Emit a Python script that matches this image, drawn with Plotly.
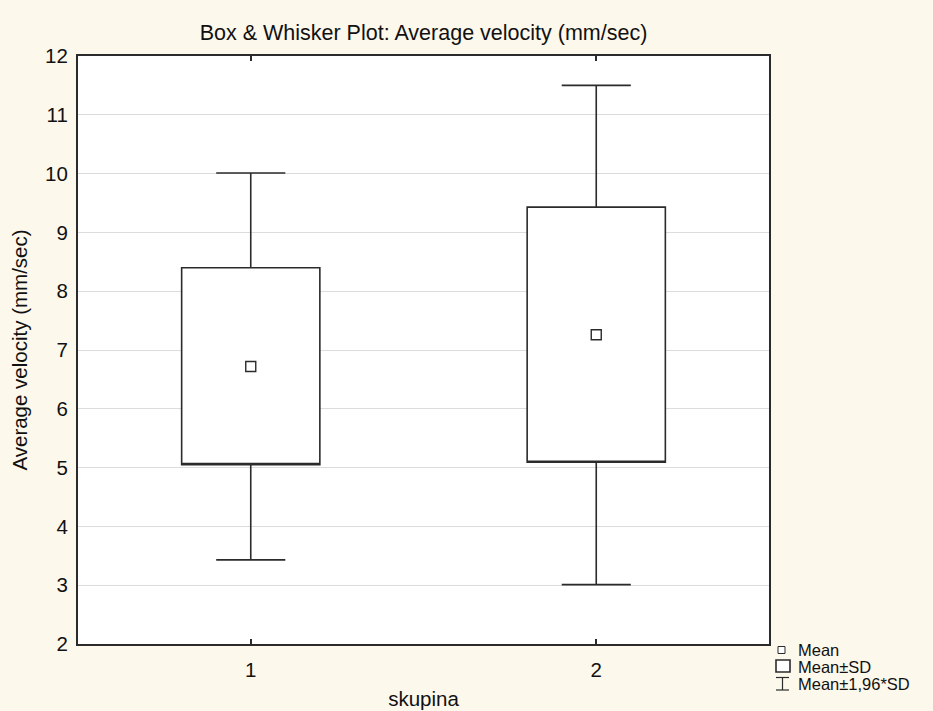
import plotly.graph_objects as go

# ---- data ----
groups = ["1", "2"]
means = [6.72, 7.26]
sd_low = [5.05, 5.09]        # Mean - SD
sd_high = [8.40, 9.43]       # Mean + SD
ci_low = [3.43, 3.01]        # Mean - 1.96*SD
ci_high = [10.01, 11.50]     # Mean + 1.96*SD
y_ticks = [2, 3, 4, 5, 6, 7, 8, 9, 10, 11, 12]

W, H = 933, 711
ML, MR, MT, MB = 78, 164, 56, 67
PW, PH = W - ML - MR, H - MT - MB
BG = "#FDF8EC"
INK = "#2b2b2b"
FONT = "Liberation Sans, Arial, sans-serif"


def px_x(px):
    return (px - ML) / PW


def px_y(py):
    return (H - MB - py) / PH


fig = go.Figure()

fig.add_trace(go.Box(
    x=groups,
    q1=sd_low,
    median=sd_low,
    q3=sd_high,
    lowerfence=ci_low,
    upperfence=ci_high,
    width=0.4,
    whiskerwidth=0.5,
    boxpoints=False,
    fillcolor="white",
    line=dict(color=INK, width=1.6),
    showlegend=False,
    hoverinfo="skip",
))

fig.add_trace(go.Scatter(
    x=groups,
    y=means,
    mode="markers",
    marker=dict(symbol="square-open", size=10, color=INK, line=dict(width=1.4, color=INK)),
    showlegend=False,
    hoverinfo="skip",
))

# ---- custom legend (bottom right, outside plot) ----
shapes = []
shapes.append(dict(type="rect", xref="paper", yref="paper",
                   x0=px_x(778), x1=px_x(785), y0=px_y(653.5), y1=px_y(646.5),
                   line=dict(color=INK, width=1), fillcolor="white"))
shapes.append(dict(type="rect", xref="paper", yref="paper",
                   x0=px_x(776), x1=px_x(790), y0=px_y(672), y1=px_y(660),
                   line=dict(color=INK, width=1.6), fillcolor="white"))
for (a, b, c, d) in [(776, 789, 677.5, 677.5), (776, 789, 690, 690), (782.5, 782.5, 677.5, 690)]:
    shapes.append(dict(type="line", xref="paper", yref="paper",
                       x0=px_x(a), x1=px_x(b), y0=px_y(c), y1=px_y(d),
                       line=dict(color=INK, width=1.2)))

legend_items = [("Mean", 649.5), ("Mean±SD", 666.5), ("Mean±1,96*SD", 684)]
annotations = []
for txt, yy in legend_items:
    annotations.append(dict(text=txt, xref="paper", yref="paper",
                            x=px_x(796), y=px_y(yy), xanchor="left", yanchor="middle",
                            showarrow=False, font=dict(family=FONT, size=16.5, color="#111")))

fig.update_layout(
    width=W, height=H,
    margin=dict(l=ML, r=MR, t=MT, b=MB, pad=0, autoexpand=False),
    paper_bgcolor=BG,
    plot_bgcolor="white",
    font=dict(family=FONT, size=20, color="#111"),
    title=dict(text="Box & Whisker Plot: Average velocity (mm/sec)",
               x=0.5, xref="paper", xanchor="center",
               y=1 - 32 / H, yref="container", yanchor="middle",
               font=dict(family=FONT, size=21.5, color="#111")),
    showlegend=False,
    shapes=shapes,
    annotations=annotations,
    xaxis=dict(
        type="category",
        range=[-0.5, 1.5],
        automargin=False,
        showline=True, linecolor=INK, linewidth=2, mirror="ticks",
        ticks="inside", ticklen=5, tickcolor=INK, tickwidth=1.5,
        showgrid=False, zeroline=False,
        tickfont=dict(family=FONT, size=20.5, color="#111"),
        ticklabelstandoff=6,
        title=dict(text="skupina", font=dict(family=FONT, size=20.5, color="#111"), standoff=12),
    ),
    yaxis=dict(
        range=[2, 12],
        tickvals=y_ticks,
        automargin=False,
        showline=True, linecolor=INK, linewidth=2, mirror=True,
        ticks="", showgrid=True, gridcolor="#DCDCDC", gridwidth=1.2,
        zeroline=False,
        tickfont=dict(family=FONT, size=20.5, color="#111"),
        ticklabelstandoff=4,
        title=dict(text="Average velocity (mm/sec)", font=dict(family=FONT, size=20.5, color="#111"), standoff=12),
    ),
)

fig.write_html("out.html")
